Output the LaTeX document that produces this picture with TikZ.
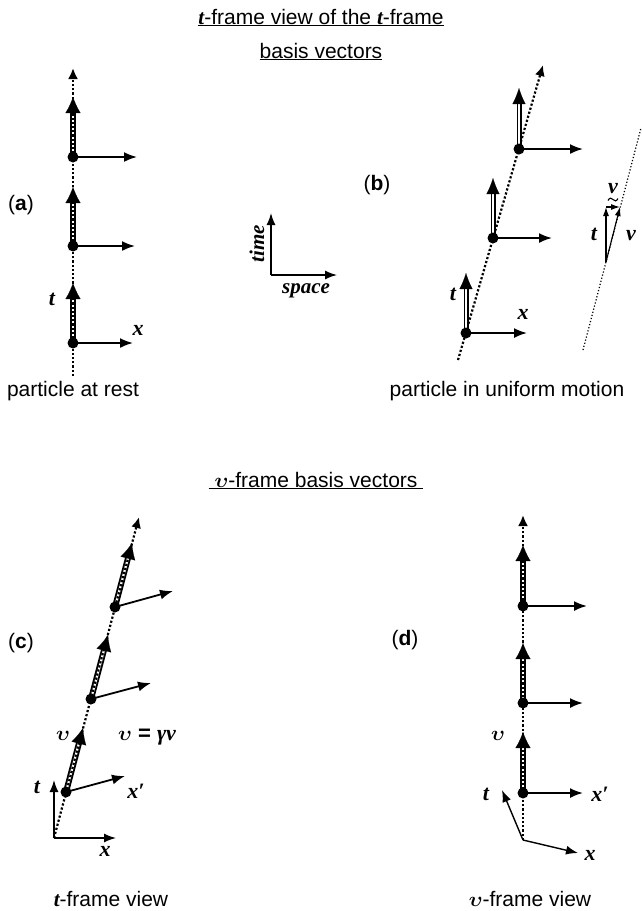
\documentclass[tikz,border=0pt]{standalone}
\usepackage{fontspec}
\usepackage{bm}
\setmainfont{Liberation Sans}
\newfontfamily\tsr{Liberation Serif}
\usetikzlibrary{arrows.meta,calc}
\newcommand{\bi}[1]{{\tsr\bfseries\itshape #1}}
\newcommand{\ups}{\ensuremath{\bm{\upsilon}}}
\begin{document}
\begin{tikzpicture}[x=1pt,y=-1pt,font=\fontsize{21}{25}\selectfont,
  wl/.style={line width=2.2pt,dash pattern=on 2.2pt off 2pt,-{Latex[length=11pt,width=10pt]}},
  thinwl/.style={line width=1.2pt,dash pattern=on 1.2pt off 2pt},
  xvec/.style={line width=1.8pt,-{Latex[length=13pt,width=10pt]}},
  axvec/.style={line width=1.4pt,-{Latex[length=12pt,width=9pt]}},
  insvec/.style={line width=1.1pt,-{Latex[length=9pt,width=6pt]}},
  tshaft/.style={line width=1.9pt,double=white,double distance=2.2pt,shorten >=14pt},
  bshaft/.style={line width=1.3pt,double=white,double distance=2.4pt,shorten >=14pt},
  thead/.style={draw,line width=0.1pt,-{Latex[length=16pt,width=15pt]}},
  bhead/.style={draw,line width=0.1pt,-{Latex[length=16pt,width=13pt]}},
  dot/.style={circle,fill=black,inner sep=0pt,minimum size=11pt},
  lab/.style={font=\tsr\bfseries\itshape\fontsize{22}{24}\selectfont,inner sep=0pt},
  txt/.style={inner sep=0pt,anchor=base},
  tildemark/.style={line width=1.1pt}]
\useasboundingbox (0,0) rectangle (642,911);
\newcommand{\tvec}[2]{\draw[tshaft] (#1) -- (#2); \path[thead] ($(#2)!15pt!(#1)$) -- (#2);}
\newcommand{\bvec}[2]{\draw[bshaft] (#1) -- (#2); \path[bhead] ($(#2)!15pt!(#1)$) -- (#2);}

% titles
\node[txt] (title1) at (321,24) {\underline{\bi{t}-frame view of the \bi{t}-frame}};
\node[txt] (title2) at (321,58) {\underline{basis vectors}};
\node[txt] (title3) at (316,487) {\underline{\ \ups-frame basis vectors\ }};

% ---------- (a)
\coordinate (a0) at (73,376); \coordinate (aT) at (73,68);
\coordinate (a1) at (73,343); \coordinate (a2) at (73,246); \coordinate (a3) at (73,157);
\coordinate (a1t) at (73,283); \coordinate (a2t) at (73,187); \coordinate (a3t) at (73,97);
\coordinate (a1x) at (133,343); \coordinate (a2x) at (135,246); \coordinate (a3x) at (137,157);
\tvec{a1}{a1t} \tvec{a2}{a2t} \tvec{a3}{a3t}
\draw[wl] (a0) -- (aT);
\draw[xvec] (a1) -- (a1x); \draw[xvec] (a2) -- (a2x); \draw[xvec] (a3) -- (a3x);
\node[dot] (da1) at (a1) {}; \node[dot] (da2) at (a2) {}; \node[dot] (da3) at (a3) {};
\node[lab] (at) at (52,299) {t};
\node[lab] (ax) at (138,330) {x};
\node[inner sep=0pt] (alab) at (21,205) {(\textbf{a})};
\node[txt] (arest) at (73,396) {particle at rest};

% ---------- (b)
\coordinate (b0) at (458,360); \coordinate (bT) at (543,65);
\coordinate (b1) at (466,333); \coordinate (b2) at (493,238); \coordinate (b3) at (519,149);
\coordinate (b1t) at (466,273); \coordinate (b2t) at (493,178); \coordinate (b3t) at (519,88);
\coordinate (b1x) at (527,333); \coordinate (b2x) at (552,238); \coordinate (b3x) at (583,149);
\draw[wl] (b0) -- (bT);
\bvec{b1}{b1t} \bvec{b2}{b2t} \bvec{b3}{b3t}
\draw[xvec] (b1) -- (b1x); \draw[xvec] (b2) -- (b2x); \draw[xvec] (b3) -- (b3x);
\node[dot] (db1) at (b1) {}; \node[dot] (db2) at (b2) {}; \node[dot] (db3) at (b3) {};
\node[lab] (bt) at (453,294) {t};
\node[lab] (bx) at (523,314) {x};
\node[inner sep=0pt] (blab) at (377,185) {(\textbf{b})};
\node[txt] (bmot) at (507,396) {particle in uniform motion};
% inset
\coordinate (i0) at (583,350); \coordinate (iT) at (641,128);
\coordinate (io) at (606,262); \coordinate (it) at (606,207); \coordinate (iv) at (620,207);
\draw[thinwl] (i0) -- (iT);
\draw[insvec] (io) -- (it);
\draw[insvec] (io) -- (iv);
\draw[insvec] (it) -- (iv);
\node[lab] (itl) at (594,234) {t};
\node[lab] (ivl) at (631,236) {ν};
\node[lab,anchor=base] (ivt) at (613,193) {ν};
\draw[tildemark] (608,200.5) .. controls (609.5,197.5) and (611.5,197.5) .. (613,199.5)
  .. controls (614.5,201.5) and (616.5,201.5) .. (618,198.5);

% legend
\coordinate (L0) at (271,275); \coordinate (Lt) at (271,213); \coordinate (Lx) at (337,275);
\draw[axvec] (L0) -- (Lt);
\draw[axvec] (L0) -- (Lx);
\node[lab,rotate=90,font=\tsr\bfseries\itshape\fontsize{21}{24}\selectfont] (ltime) at (257,244) {time};
\node[lab,font=\tsr\bfseries\itshape\fontsize{21}{24}\selectfont] (lspace) at (306,291) {space};

% ---------- (c)
\coordinate (c0) at (54,838); \coordinate (cT) at (139,517);
\coordinate (c1) at (66,792); \coordinate (c2) at (91,699); \coordinate (c3) at (115,607);
\coordinate (c1t) at (83,728); \coordinate (c2t) at (108,635); \coordinate (c3t) at (132,543);
\coordinate (c1x) at (125,776); \coordinate (c2x) at (151,683); \coordinate (c3x) at (173,591);
\coordinate (cta) at (54,780); \coordinate (cxa) at (116,838);
\draw[axvec] (c0) -- (cta);
\draw[axvec] (c0) -- (cxa);
\tvec{c1}{c1t} \tvec{c2}{c2t} \tvec{c3}{c3t}
\draw[wl] (c0) -- (cT);
\draw[xvec] (c1) -- (c1x); \draw[xvec] (c2) -- (c2x); \draw[xvec] (c3) -- (c3x);
\node[dot] (dc1) at (c1) {}; \node[dot] (dc2) at (c2) {}; \node[dot] (dc3) at (c3) {};
\node[lab] (ct) at (37,787) {t};
\node[lab] (cx) at (105,851) {x};
\node[lab] (cxp) at (136,791) {x′};
\node[inner sep=0pt] (cu) at (63,736) {\fontsize{22}{24}\selectfont$\bm{\upsilon}$};
\node[inner sep=0pt] (ceq) at (147,737) {\fontsize{22}{24}\selectfont$\bm{\upsilon}$ \textbf{=} \bi{γν}};
\node[inner sep=0pt] (clab) at (21,643) {(\textbf{c})};
\node[txt] (cview) at (111,906) {\bi{t}-frame view};

% ---------- (d)
\coordinate (d0) at (523,840); \coordinate (dT) at (523,515);
\coordinate (d1) at (523,793); \coordinate (d2) at (523,703); \coordinate (d3) at (523,606);
\coordinate (d1t) at (523,732); \coordinate (d2t) at (523,643); \coordinate (d3t) at (523,545);
\coordinate (d1x) at (583,793); \coordinate (d2x) at (583,703); \coordinate (d3x) at (587,606);
\coordinate (dta) at (502,790); \coordinate (dxa) at (578,853);
\draw[axvec] (d0) -- (dta);
\draw[axvec] (d0) -- (dxa);
\tvec{d1}{d1t} \tvec{d2}{d2t} \tvec{d3}{d3t}
\draw[wl] (d0) -- (dT);
\draw[xvec] (d1) -- (d1x); \draw[xvec] (d2) -- (d2x); \draw[xvec] (d3) -- (d3x);
\node[dot] (dd1) at (d1) {}; \node[dot] (dd2) at (d2) {}; \node[dot] (dd3) at (d3) {};
\node[lab] (dt) at (486,794) {t};
\node[lab] (dx) at (590,855) {x};
\node[lab] (dxp) at (600,794) {x′};
\node[inner sep=0pt] (du) at (498,736) {\fontsize{22}{24}\selectfont$\bm{\upsilon}$};
\node[inner sep=0pt] (dlab) at (405,640) {(\textbf{d})};
\node[txt] (dview) at (530,906) {$\bm{\upsilon}$-frame view};
\end{tikzpicture}
\end{document}
